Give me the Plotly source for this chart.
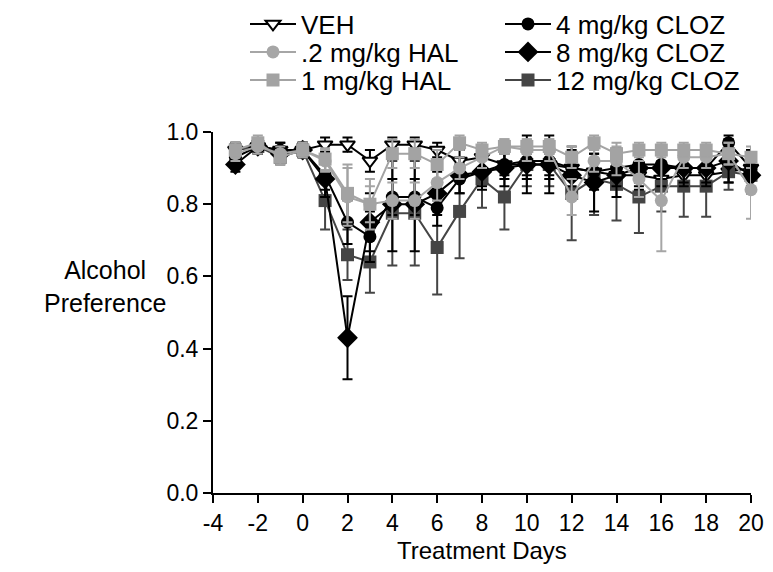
import plotly.graph_objects as go

# treatment days -3 .. 20
days = [-3, -2, -1, 0, 1, 2, 3, 4, 5, 6, 7, 8, 9, 10, 11, 12, 13, 14, 15, 16, 17, 18, 19, 20]
x_ticks = [-4, -2, 0, 2, 4, 6, 8, 10, 12, 14, 16, 18, 20]
x_labels = ["-4", "-2", "0", "2", "4", "6", "8", "10", "12", "14", "16", "18", "20"]
y_ticks = [0.0, 0.2, 0.4, 0.6, 0.8, 1.0]

veh = [0.95, 0.96, 0.95, 0.95, 0.965, 0.965, 0.92, 0.965, 0.965, 0.95, 0.92, 0.93,
       0.91, 0.91, 0.91, 0.90, 0.89, 0.88, 0.88, 0.87, 0.88, 0.88, 0.89, 0.90]
veh_err = [0.02, 0.02, 0.02, 0.02, 0.02, 0.02, 0.03, 0.02, 0.02, 0.02, 0.03, 0.03,
           0.03, 0.03, 0.03, 0.03, 0.03, 0.03, 0.03, 0.03, 0.03, 0.03, 0.03, 0.03]

hal02 = [0.94, 0.96, 0.94, 0.95, 0.92, 0.82, 0.80, 0.81, 0.81, 0.86, 0.90, 0.93,
         0.96, 0.95, 0.95, 0.82, 0.92, 0.92, 0.87, 0.81, 0.93, 0.93, 0.94, 0.84]
hal02_err = [0.02, 0.02, 0.02, 0.02, 0.03, 0.08, 0.05, 0.05, 0.05, 0.05, 0.03, 0.03,
             0.02, 0.03, 0.03, 0.05, 0.03, 0.04, 0.05, 0.14, 0.03, 0.03, 0.03, 0.08]

hal1 = [0.95, 0.97, 0.93, 0.95, 0.925, 0.83, 0.80, 0.94, 0.94, 0.91, 0.97, 0.95,
        0.96, 0.96, 0.96, 0.93, 0.97, 0.94, 0.95, 0.95, 0.95, 0.95, 0.94, 0.93]
hal1_err = [0.02, 0.02, 0.02, 0.02, 0.03, 0.08, 0.07, 0.04, 0.04, 0.04, 0.02, 0.02,
            0.02, 0.02, 0.02, 0.03, 0.02, 0.03, 0.02, 0.02, 0.02, 0.02, 0.03, 0.03]

cloz4 = [0.93, 0.96, 0.95, 0.95, 0.88, 0.75, 0.71, 0.82, 0.82, 0.79, 0.87, 0.89,
         0.91, 0.92, 0.92, 0.90, 0.89, 0.90, 0.91, 0.91, 0.90, 0.90, 0.97, 0.90]
cloz4_err = [0.02, 0.02, 0.02, 0.02, 0.04, 0.06, 0.07, 0.05, 0.05, 0.05, 0.04, 0.04,
             0.04, 0.05, 0.05, 0.05, 0.05, 0.05, 0.05, 0.04, 0.04, 0.04, 0.02, 0.05]

cloz8 = [0.91, 0.96, 0.94, 0.95, 0.87, 0.43, 0.75, 0.80, 0.80, 0.83, 0.88, 0.89,
         0.90, 0.91, 0.91, 0.88, 0.86, 0.88, 0.90, 0.90, 0.90, 0.90, 0.92, 0.88]
cloz8_err = [0.02, 0.02, 0.02, 0.02, 0.05, 0.115, 0.08, 0.13, 0.13, 0.06, 0.05, 0.05,
             0.05, 0.08, 0.08, 0.06, 0.08, 0.06, 0.06, 0.05, 0.05, 0.05, 0.06, 0.05]

cloz12 = [0.95, 0.96, 0.93, 0.95, 0.81, 0.66, 0.64, 0.775, 0.775, 0.68, 0.78, 0.87,
          0.82, 0.91, 0.91, 0.83, 0.87, 0.855, 0.82, 0.85, 0.85, 0.85, 0.89, 0.88]
cloz12_err = [0.02, 0.02, 0.02, 0.02, 0.08, 0.07, 0.085, 0.145, 0.145, 0.13, 0.13, 0.08,
              0.09, 0.06, 0.06, 0.13, 0.10, 0.10, 0.10, 0.07, 0.085, 0.085, 0.05, 0.05]

FONT = "Arial, Liberation Sans, sans-serif"
FS = 23
LEG_FS = 26

# page has an 8px body margin, so the figure is made smaller and shifted
OFF = 8
W, H = 773 - 2 * OFF, 572 - 2 * OFF
# plot area in page pixels: x 213..751, y 132..493
L, T = 213 - OFF, 132 - OFF
R, B = W - (751 - OFF), H - (493 - OFF)


def px_x(p):
    return (p - OFF - L) / (W - L - R)


def px_y(p):
    return (H - B - (p - OFF)) / (H - T - B)


# drawn bottom -> top; name, values, errors, symbol, colour, size, fill, legend slot
series = [
    ("VEH", veh, veh_err, "triangle-down", "black", 13, "white", (0, 0)),
    ("12 mg/kg CLOZ", cloz12, cloz12_err, "square", "#454545", 13, "#454545", (1, 2)),
    ("8 mg/kg CLOZ", cloz8, cloz8_err, "diamond", "black", 16, "black", (1, 1)),
    ("4 mg/kg CLOZ", cloz4, cloz4_err, "circle", "black", 13, "black", (1, 0)),
    (".2 mg/kg HAL", hal02, hal02_err, "circle", "#a6a6a6", 13, "#a6a6a6", (0, 1)),
    ("1 mg/kg HAL", hal1, hal1_err, "square", "#a3a3a3", 13, "#a3a3a3", (0, 2)),
]

leg_cols = [245, 500]     # page x of legend left edge
leg_rows = [24, 52, 80]   # page y of row centres

fig = go.Figure()
legends = {}
for i, (name, vals, errs, sym, col, size, fill, slot) in enumerate(series):
    key = "legend%d" % (i + 2)
    fig.add_trace(go.Scatter(
        x=days, y=vals, name=name, mode="lines+markers", showlegend=True,
        line=dict(color=col, width=2),
        marker=dict(symbol=sym, size=size, color=fill,
                    line=dict(color=col, width=2 if fill == "white" else 0)),
        error_y=dict(type="data", array=errs, visible=True, color=col,
                     thickness=2, width=5),
        legend=key, cliponaxis=False,
    ))
    legends[key] = dict(x=px_x(leg_cols[slot[0]]), y=px_y(leg_rows[slot[1]]),
                        xanchor="left", yanchor="middle", itemwidth=46,
                        font=dict(size=LEG_FS), bgcolor="rgba(0,0,0,0)")

fig.update_layout(
    width=W, height=H,
    margin=dict(l=L, r=R, t=T, b=B, autoexpand=False),
    paper_bgcolor="white", plot_bgcolor="white", showlegend=True,
    font=dict(family=FONT, size=FS, color="black"),
    xaxis=dict(range=[-4, 20], tickvals=x_ticks, ticktext=x_labels,
               showline=True, linecolor="black", linewidth=2,
               ticks="outside", ticklen=8, tickwidth=2, tickcolor="black",
               showgrid=False, zeroline=False, tickfont=dict(size=FS)),
    yaxis=dict(range=[0, 1.0], tickvals=y_ticks, tickformat=".1f",
               showline=True, linecolor="black", linewidth=2,
               ticks="outside", ticklen=8, tickwidth=2, tickcolor="black",
               showgrid=False, zeroline=False, tickfont=dict(size=FS)),
    annotations=[
        dict(text="Alcohol<br>Preference", x=px_x(105), y=px_y(286), xref="paper", yref="paper",
             showarrow=False, font=dict(size=25), xanchor="center", yanchor="middle"),
        dict(text="Treatment Days", x=px_x(482), y=px_y(550), xref="paper", yref="paper",
             showarrow=False, font=dict(size=24), xanchor="center", yanchor="middle"),
    ],
    **legends,
)

fig.write_html("out.html")
